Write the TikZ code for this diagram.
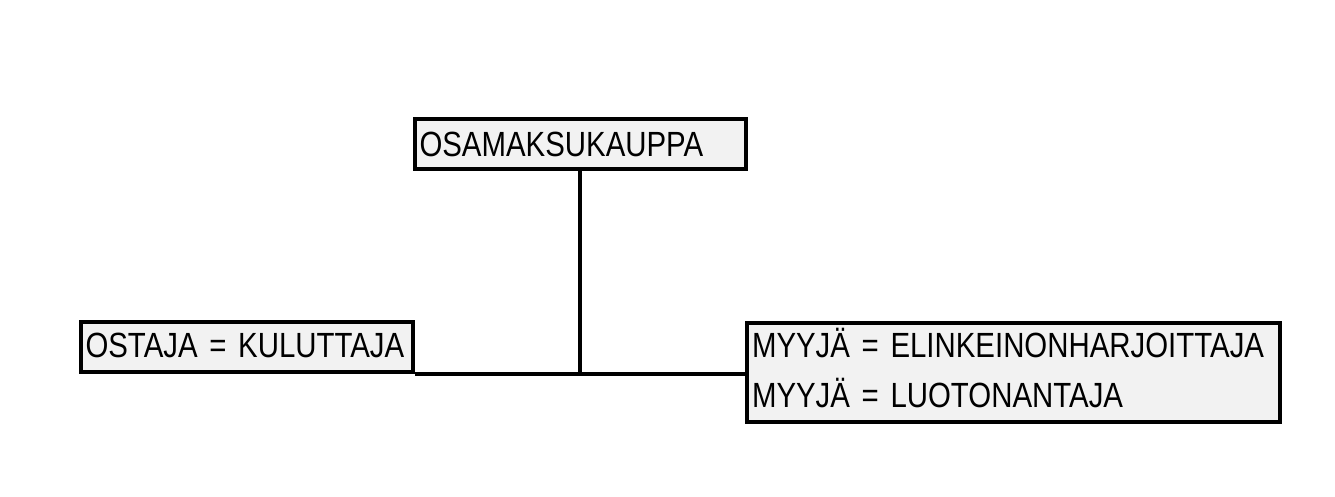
\documentclass[tikz,border=0pt]{standalone}
\usepackage{fontspec}
\setmainfont[FakeStretch=0.84]{Liberation Sans}
\definecolor{boxgray}{HTML}{F2F2F2}
\newcommand\myboxfont{\fontsize{35}{50}\selectfont\fontdimen2\font=4pt\relax}
\begin{document}
\begin{tikzpicture}[x=1pt,y=-1pt,
  box/.style={draw=black, line width=4pt, fill=boxgray, rectangle, anchor=north west,
    inner xsep=5pt, inner ysep=0pt, align=left,
    font=\myboxfont,
    text height=36pt, text depth=14pt},
  conn/.style={draw=black, line width=4pt}]
\useasboundingbox (0,0) rectangle (1335,497);
\node[box, text width=321.5pt, text height=37.5pt, text depth=12.5pt] (top) at (412.5,117.5) {OSAMAKSUKAUPPA};
\node[box, text width=322.5pt, text height=35pt, text depth=15pt] (ostaja) at (78.5,320) {OSTAJA = KULUTTAJA};
\node[box, text width=522.5pt, text height=34.5pt, text depth=64.5pt] (myyja) at (745,321) {MYYJÄ = ELINKEINONHARJOITTAJA\\MYYJÄ = LUOTONANTAJA};
\coordinate (junction) at (top.south |- myyja.west);
\draw[conn] (top.south) -- (junction);
\draw[conn] (ostaja.south east) -- (ostaja.south east -| myyja.west);
\end{tikzpicture}
\end{document}
